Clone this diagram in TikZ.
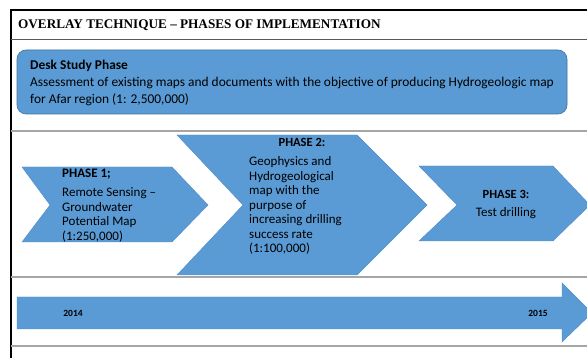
\documentclass[tikz,border=0pt]{standalone}
\usepackage{fontspec}
\setmainfont{Carlito}
\newfontfamily\headfont{Liberation Serif}
\definecolor{offblue}{HTML}{5B9BD5}
\definecolor{offedge}{HTML}{4F8CC6}
\definecolor{boxedge}{HTML}{41719C}
\definecolor{rule}{HTML}{A6A6A6}
\tikzset{
  blueshape/.style={fill=offblue, draw=offedge, line width=0.4pt},
  txt/.style={inner sep=0pt, anchor=west, font=\fontsize{13}{14.5}\selectfont, align=left},
  grayrule/.style={draw=rule, line width=1.2pt},
}
\begin{document}
\begin{tikzpicture}[x=1pt,y=-1pt]
\useasboundingbox (0,0) rectangle (587,358);
% frame
\draw[line width=2pt] (11,358) -- (11,10) -- (587,10);
\draw[draw=black!65, line width=0.8pt] (11,39) -- (587,39);
\draw[grayrule] (11,131) -- (587,131);
\draw[grayrule] (11,277) -- (587,277);
\draw[grayrule] (11,346) -- (587,346);
% header
\node[inner sep=0pt, anchor=west, font=\headfont\bfseries\fontsize{13.2}{15}\selectfont] (head) at (18,25.5) {OVERLAY TECHNIQUE – PHASES OF IMPLEMENTATION};
% desk study box
\draw[fill=offblue, draw=boxedge, line width=0.6pt, rounded corners=9pt] (17,50) rectangle (567,114);
\node[txt, anchor=north west, font=\fontsize{13.4}{17}\selectfont] (desk) at (30,60) {\textbf{Desk Study Phase}\\Assessment of existing maps and documents with the objective of producing Hydrogeologic map\\for Afar region (1: 2,500,000)};
% phase 1
\path[blueshape] (22,167) -- (172,167) -- (208,205) -- (172,242) -- (22,242) -- (50,205) -- cycle;
\node[txt, anchor=north west] (p1) at (62,168.5) {\textbf{PHASE 1;}\\[5pt]Remote Sensing –\\Groundwater\\Potential Map\\(1:250,000)};
% phase 2
\path[blueshape] (177,135) -- (357,135) -- (427,205) -- (357,275) -- (177,275) -- (243,205) -- cycle;
\node[inner sep=0pt, font=\bfseries\fontsize{12.5}{14.5}\selectfont] (p2h) at (302,142) {PHASE 2:};
\node[txt, anchor=north west] (p2) at (249,156.5) {Geophysics and\\Hydrogeological\\map with the\\purpose of\\increasing drilling\\success rate\\(1:100,000)};
% phase 3
\path[blueshape] (419,166) -- (553,166) -- (590,205) -- (553,241) -- (419,241) -- (457,205) -- cycle;
\node[inner sep=0pt, font=\bfseries\fontsize{12.5}{14.5}\selectfont] (p3h) at (506,194) {PHASE 3:};
\node[inner sep=0pt, font=\fontsize{13}{14.5}\selectfont] (p3) at (506,213) {Test drilling};
% timeline arrow
\path[blueshape] (17,297) -- (562,297) -- (562,283) -- (592,313) -- (562,342) -- (562,329) -- (17,329) -- cycle;
\node[inner sep=0pt, font=\bfseries\fontsize{9.5}{11}\selectfont] (y1) at (73,313) {2014};
\node[inner sep=0pt, font=\bfseries\fontsize{9.5}{11}\selectfont] (y2) at (538,313) {2015};
\end{tikzpicture}
\end{document}
